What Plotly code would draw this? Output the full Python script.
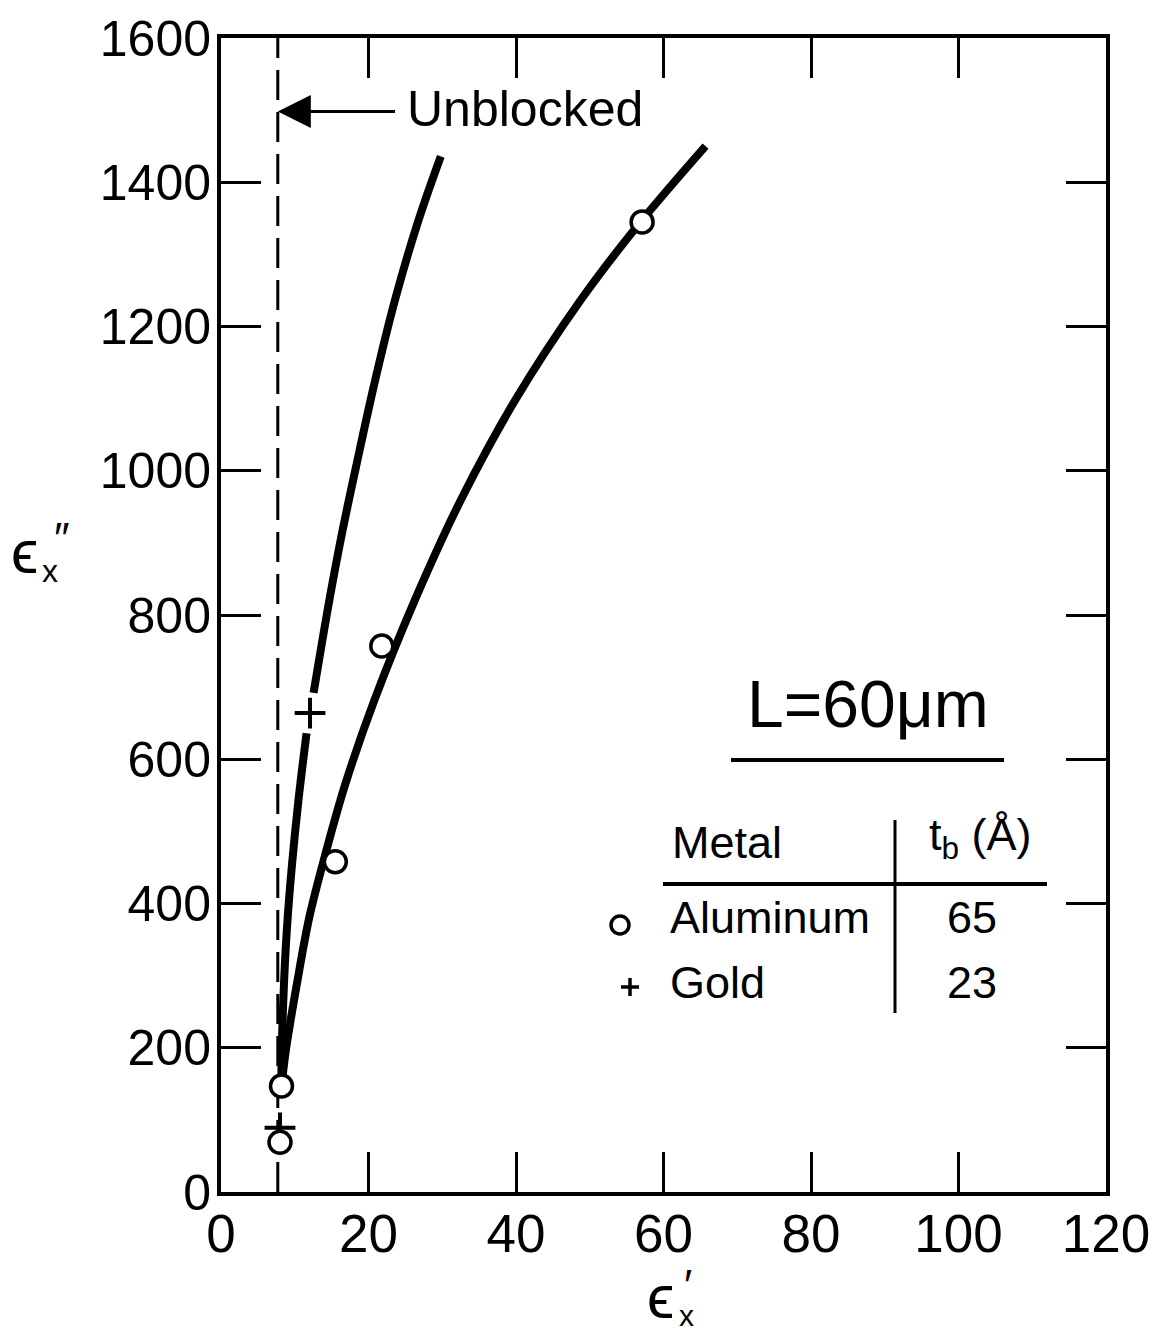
import plotly.graph_objects as go

# ---------------- data ----------------
al_curve_x = [8.2, 8.8, 10.3, 12.0, 14.3, 16.9, 20.8, 26.3, 32.5, 39.9, 48.8, 56.5, 65.7]
al_curve_y = [146, 197, 289, 382, 474, 567, 682, 821, 959, 1098, 1237, 1340, 1450]

au_curve_x = [8.2, 8.2, 8.45, 8.9, 9.6, 10.5, 11.6, None, 12.55, 14.7, 16.4, 18.3, 20.8, 23.6, 26.8, 29.8]
au_curve_y = [150, 174, 266, 359, 451, 543, 636, None, 692, 821, 913, 1005, 1121, 1237, 1348, 1436]

al_pts_x = [8.0, 8.2, 15.5, 21.8, 57.1]
al_pts_y = [69, 147, 458, 757, 1345]

au_pts_x = [8.0, 12.07]
au_pts_y = [89, 664]

unblocked_x = 7.7
arrow_tail_x = 23.8
arrow_y = 1498
y_range = [0, 1600]

x_ticks = [0, 20, 40, 60, 80, 100, 120]
y_ticks = [0, 200, 400, 600, 800, 1000, 1200, 1400, 1600]
x_ticktext = ["0", "20", "40", "60", "80", "100", "120"]
y_ticktext = ["0", "200", "400", "600", "800", "1000", "1200", "1400", "1600"]

table_metals = ["Aluminum", "Gold"]
table_tb = ["65", "23"]

# ---------------- layout helpers ----------------
# the page body adds an 8px margin, so the figure is 8px smaller and shifted
OFF = 8
W, H = 1163 - OFF, 1331 - OFF
L, R, T, B = 221, 1106, 38, 1192   # plot area in reference pixels
FONT = "Liberation Sans"
DY = 5  # text boxes are centred slightly below the visible glyphs


def px(xp):
    return (xp - L) / (R - L)


def py(yp):
    return (B - yp) / (B - T)


def txt(x, y, text, size, xanchor="center"):
    return dict(x=px(x), y=py(y - DY), xref="paper", yref="paper", text=text,
                xanchor=xanchor, yanchor="middle", showarrow=False,
                font=dict(family=FONT, size=size, color="black"))


fig = go.Figure()

# dashed unblocked line
fig.add_trace(go.Scatter(x=[unblocked_x, unblocked_x], y=y_range, mode="lines",
                         line=dict(color="black", width=3, dash="30px,12px"),
                         hoverinfo="skip"))

fig.add_trace(go.Scatter(x=al_curve_x, y=al_curve_y, mode="lines",
                         line=dict(color="black", width=8, shape="spline", smoothing=1.0),
                         connectgaps=False, hoverinfo="skip"))
fig.add_trace(go.Scatter(x=au_curve_x, y=au_curve_y, mode="lines",
                         line=dict(color="black", width=8, shape="spline", smoothing=1.0),
                         connectgaps=False, hoverinfo="skip"))

fig.add_trace(go.Scatter(x=au_pts_x, y=au_pts_y, mode="markers",
                         marker=dict(symbol="cross-thin", size=22, color="black",
                                     line=dict(color="black", width=4)),
                         name="Gold"))
fig.add_trace(go.Scatter(x=al_pts_x, y=al_pts_y, mode="markers",
                         marker=dict(symbol="circle", size=22, color="white",
                                     line=dict(color="black", width=3.5)),
                         name="Aluminum"))

axis_common = dict(showline=True, linewidth=4, linecolor="black", mirror="ticks",
                   ticks="inside", ticklen=40, tickwidth=3, tickcolor="black",
                   showgrid=False, zeroline=False, automargin=False)

fig.update_xaxes(range=[0, 120], tickvals=x_ticks, ticktext=x_ticktext,
                 ticklabelstandoff=-8,
                 tickfont=dict(family=FONT, size=53, color="black"), **axis_common)
fig.update_yaxes(range=y_range, tickvals=y_ticks, ticktext=y_ticktext,
                 ticklabelstandoff=-4,
                 tickfont=dict(family=FONT, size=50, color="black"), **axis_common)

ann = []
# axis titles
ann.append(txt(24, 556, "ϵ", 62))
ann.append(txt(50, 576, "x", 32))
ann.append(txt(62, 543, "″", 44))

ann.append(txt(660, 1302, "ϵ", 62))
ann.append(txt(686, 1320, "x", 30))
ann.append(txt(688, 1290, "′", 44))

# unblocked arrow + label
ann.append(dict(x=unblocked_x, y=arrow_y, xref="x", yref="y", ax=arrow_tail_x, ay=arrow_y,
                axref="x", ayref="y", text="", showarrow=True,
                arrowhead=2, arrowsize=2.2, arrowwidth=3, arrowcolor="black"))
ann.append(txt(405, 114, "Unblocked", 50, xanchor="left"))

# legend table
ann.append(txt(868, 709, "L=60μm", 66))
ann.append(txt(670, 847, "Metal", 45, xanchor="left"))
ann.append(txt(980, 843, "t<sub>b</sub> (Å)", 45))
row_y = [922, 987]
for name, tb, yy in zip(table_metals, table_tb, row_y):
    ann.append(txt(668, yy, name, 45, xanchor="left"))
    ann.append(txt(972, yy, tb, 45))

shapes = [
    dict(type="line", xref="paper", yref="paper", x0=px(731), x1=px(1004),
         y0=py(760), y1=py(760), line=dict(color="black", width=4)),
    dict(type="line", xref="paper", yref="paper", x0=px(663), x1=px(1047),
         y0=py(884), y1=py(884), line=dict(color="black", width=4)),
    dict(type="line", xref="paper", yref="paper", x0=px(895), x1=px(895),
         y0=py(820), y1=py(1013), line=dict(color="black", width=3)),
    # legend symbols
    dict(type="circle", xref="paper", yref="paper", x0=px(611), x1=px(629),
         y0=py(916), y1=py(934), line=dict(color="black", width=3.5)),
    dict(type="line", xref="paper", yref="paper", x0=px(621), x1=px(639),
         y0=py(987), y1=py(987), line=dict(color="black", width=3.5)),
    dict(type="line", xref="paper", yref="paper", x0=px(630), x1=px(630),
         y0=py(978), y1=py(996), line=dict(color="black", width=3.5)),
]

fig.update_layout(width=W, height=H,
                  margin=dict(l=L - OFF, r=W - (R - OFF), t=T - OFF, b=H - (B - OFF),
                              autoexpand=False),
                  paper_bgcolor="white", plot_bgcolor="white", showlegend=False,
                  annotations=ann, shapes=shapes)

fig.write_html("out.html")
